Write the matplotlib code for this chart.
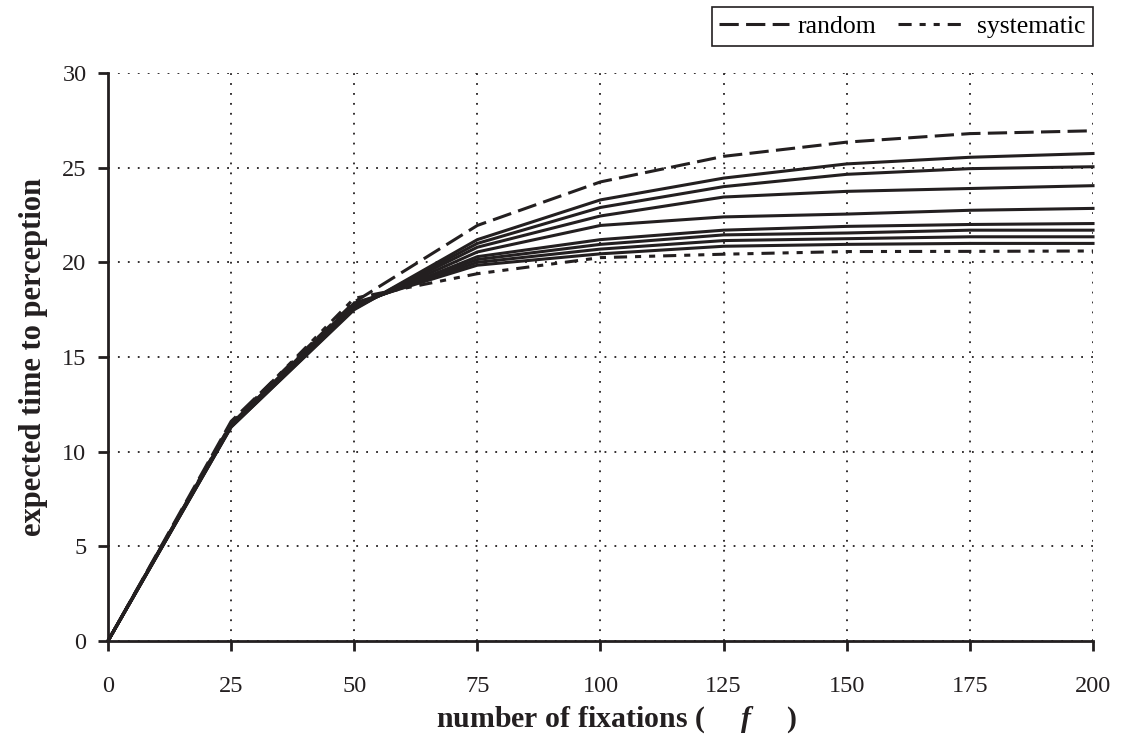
"""Expected time to perception vs number of fixations (random / systematic / mixed)."""
import matplotlib

matplotlib.use("Agg")
import matplotlib.pyplot as plt
from matplotlib.lines import Line2D


FIXATIONS = [0, 25, 50, 75, 100, 125, 150, 175, 200]

RANDOM = [0, 11.6, 17.9, 21.95, 24.25, 25.6, 26.35, 26.8, 26.95]
SYSTEMATIC = [0, 11.5, 18.1, 19.4, 20.25, 20.43, 20.57, 20.58, 20.6]

# intermediate strategies, top to bottom at f = 200
MIXED = [
    [0, 11.3, 17.5, 21.2, 23.3, 24.45, 25.2, 25.55, 25.75],
    [0, 11.3, 17.55, 21.0, 22.9, 24.0, 24.65, 24.95, 25.05],
    [0, 11.35, 17.6, 20.8, 22.45, 23.45, 23.75, 23.9, 24.05],
    [0, 11.35, 17.65, 20.55, 21.95, 22.4, 22.55, 22.75, 22.85],
    [0, 11.4, 17.7, 20.3, 21.2, 21.7, 21.9, 22.0, 22.05],
    [0, 11.4, 17.75, 20.15, 20.95, 21.45, 21.55, 21.7, 21.7],
    [0, 11.45, 17.8, 20.0, 20.7, 21.15, 21.25, 21.35, 21.35],
    [0, 11.45, 17.85, 19.85, 20.45, 20.85, 20.95, 21.0, 21.0],
]

X_TICKS = [0, 25, 50, 75, 100, 125, 150, 175, 200]
Y_TICKS = [0, 5, 10, 15, 20, 25, 30]

INK = "#231f20"
DASHED = (0, (6.3, 2.4))
DASHDOT = (0, (4.3, 2.6, 2, 2.6, 2, 2.6))


def main() -> None:
    plt.rcParams["font.family"] = ["Liberation Serif", "DejaVu Serif"]
    plt.rcParams["mathtext.fontset"] = "custom"
    plt.rcParams["mathtext.it"] = "Liberation Serif:bold:italic"
    plt.rcParams["mathtext.rm"] = "Liberation Serif:bold"

    fig = plt.figure(figsize=(11.26, 7.37), dpi=100)
    ax = fig.add_axes([0.0959, 0.1303, 0.8748, 0.7706])

    for ys in MIXED:
        ax.plot(FIXATIONS, ys, color=INK, lw=2.2, solid_joinstyle="miter", clip_on=False, zorder=3)
    ax.plot(FIXATIONS, RANDOM, color=INK, lw=2.2, linestyle=DASHED, clip_on=False, zorder=3)
    ax.plot(FIXATIONS, SYSTEMATIC, color=INK, lw=2.2, linestyle=DASHDOT, clip_on=False, zorder=3)

    ax.set_xlim(0, 200)
    ax.set_ylim(0, 30)
    ax.set_xticks(X_TICKS)
    ax.set_yticks(Y_TICKS)
    ax.grid(True, color=INK, linestyle=(0, (1, 4.5)), lw=1.3)
    ax.set_axisbelow(True)

    for side in ("top", "right"):
        ax.spines[side].set_visible(False)
    for side in ("left", "bottom"):
        ax.spines[side].set_color(INK)
        ax.spines[side].set_linewidth(2.0)
    ax.tick_params(axis="both", direction="out", length=7.5, width=2.0, color=INK,
                   labelsize=17.5, labelcolor=INK)
    ax.tick_params(axis="x", pad=18)
    ax.tick_params(axis="y", pad=8)

    ax.set_xlabel("number of fixations ($\\quad\\;\\;f\\quad\\;\\;$)", fontsize=21.5, fontweight="bold",
                  color=INK)
    ax.xaxis.set_label_coords(0.516, -0.112)
    ax.set_ylabel("expected time to perception", fontsize=22, fontweight="bold", color=INK, labelpad=10)

    handles = [
        Line2D([], [], color=INK, lw=2.2, linestyle=DASHED),
        Line2D([], [], color=INK, lw=2.2, linestyle=DASHDOT),
    ]
    leg = ax.legend(handles, ["random", "systematic"], ncol=2, loc="upper right",
                    bbox_to_anchor=(1.0, 1.116), borderaxespad=0, fontsize=18.5,
                    handlelength=2.7, handletextpad=0.35, columnspacing=0.85,
                    fancybox=False, framealpha=1, edgecolor=INK, borderpad=0.3)
    leg.get_frame().set_linewidth(1.2)

    fig.savefig("out.png", dpi=100)


if __name__ == "__main__":
    main()
